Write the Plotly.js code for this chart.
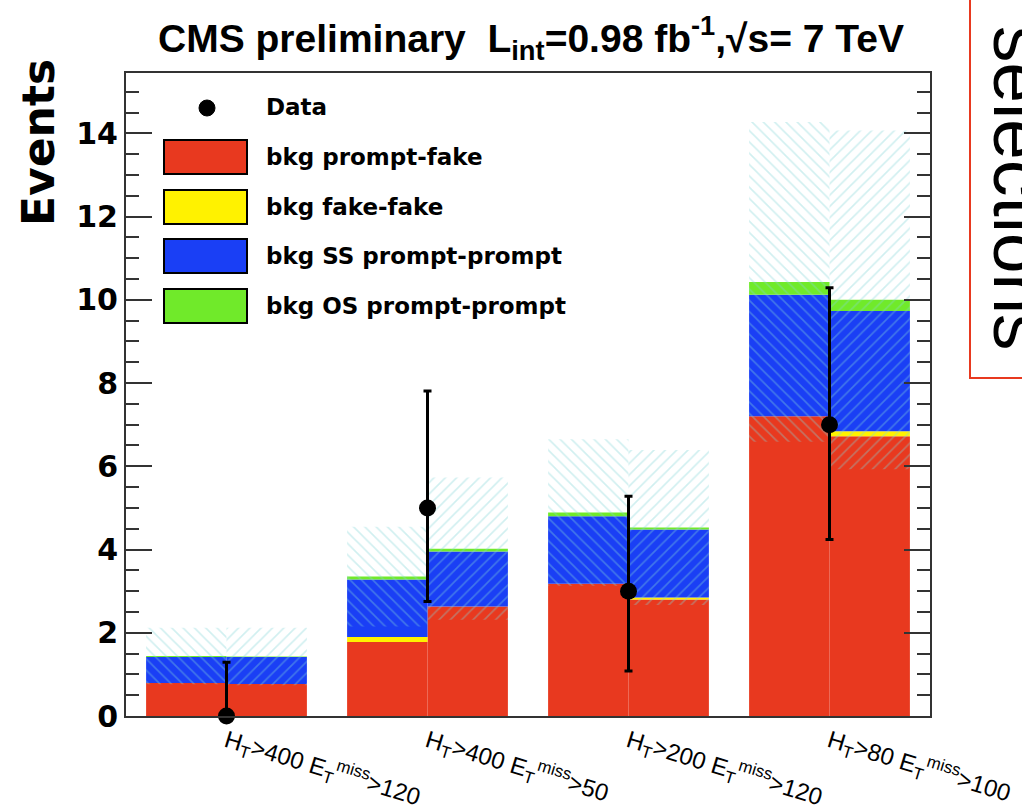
<!DOCTYPE html>
<html>
<head>
<meta charset="utf-8">
<script src="https://cdn.plot.ly/plotly-3.0.1.min.js"></script>
<style>html,body{margin:0;padding:0;background:#fff;}#chart{width:1022px;height:810px;}</style>
</head>
<body>
<div id="chart"></div>
<script>
// ---- data (each bin split into left / right half) ----
const binLabels = [
  "H<sub>T</sub>>400 E<sub>T</sub><sup>miss</sup>>120",
  "H<sub>T</sub>>400 E<sub>T</sub><sup>miss</sup>>50",
  "H<sub>T</sub>>200 E<sub>T</sub><sup>miss</sup>>120",
  "H<sub>T</sub>>80 E<sub>T</sub><sup>miss</sup>>100"
];
const promptFake   = [0.79, 0.77, 1.78, 2.63, 3.18, 2.80, 7.20, 6.72];
const fakeFake     = [0.00, 0.00, 0.12, 0.00, 0.00, 0.05, 0.00, 0.12];
const ssPromptPrompt = [0.63, 0.65, 1.38, 1.32, 1.62, 1.63, 2.92, 2.89];
const osPromptPrompt = [0.02, 0.01, 0.07, 0.07, 0.09, 0.05, 0.31, 0.27];
const bkgUncertainty = [0.68, 0.69, 1.20, 1.71, 1.76, 1.86, 3.84, 4.07];
const dataCounts  = [0, 5, 3, 7];
const dataErrUp   = [1.29, 2.81, 2.28, 3.29];
const dataErrDown = [0, 2.25, 1.92, 2.76];

// ---- helpers ----
const halfX = promptFake.map((_, k) => Math.floor(k / 2) + 0.3 + 0.4 * (k % 2));
const binX = dataCounts.map((_, i) => i + 0.5);
const cum = (arrs) => promptFake.map((_, k) => arrs.reduce((s, a) => s + a[k], 0));
const base1 = cum([promptFake]);
const base2 = cum([promptFake, fakeFake]);
const base3 = cum([promptFake, fakeFake, ssPromptPrompt]);
const total = cum([promptFake, fakeFake, ssPromptPrompt, osPromptPrompt]);

const colRed = '#e8391f', colYellow = '#fff200', colBlue = '#1a3ff5', colGreen = '#70ea2a';

function barTrace(name, y, base, color) {
  return {type: 'bar', name: name, x: halfX, y: y, base: base, width: 0.4,
    marker: {color: color, line: {width: 0}}, showlegend: false, hoverinfo: 'skip'};
}
const traces = [
  barTrace('bkg prompt-fake', promptFake, promptFake.map(() => 0), colRed),
  barTrace('bkg fake-fake', fakeFake, base1, colYellow),
  barTrace('bkg SS prompt-prompt', ssPromptPrompt, base2, colBlue),
  barTrace('bkg OS prompt-prompt', osPromptPrompt, base3, colGreen)
];
// hatched uncertainty band, left halves and right halves with different hatch direction
[0, 1].forEach(side => {
  const idx = promptFake.map((_, k) => k).filter(k => k % 2 === side);
  traces.push({
    type: 'bar', x: idx.map(k => halfX[k]),
    base: idx.map(k => total[k] - bkgUncertainty[k]),
    y: idx.map(k => 2 * bkgUncertainty[k]),
    width: 0.4, showlegend: false, hoverinfo: 'skip',
    marker: {color: 'rgba(0,0,0,0)', line: {width: 0},
      pattern: {shape: side === 0 ? '\\' : '/', fillmode: 'overlay',
        fgcolor: 'rgba(130,212,215,0.75)', size: 8, solidity: 0.2}}
  });
});
traces.push({
  type: 'scatter', mode: 'markers', name: 'Data', x: binX, y: dataCounts,
  marker: {color: 'black', size: 17},
  error_y: {type: 'data', symmetric: false, array: dataErrUp, arrayminus: dataErrDown,
    color: 'black', thickness: 3, width: 4},
  cliponaxis: false, showlegend: false
});

// ---- layout helpers (pixel -> paper) ----
const L = 126, R = 930, T = 73, B = 716;
const px = v => (v - L) / (R - L);
const py = v => (B - v) / (B - T);

const legendItems = [
  {label: 'bkg prompt-fake', color: colRed, y: 157},
  {label: 'bkg fake-fake', color: colYellow, y: 207},
  {label: 'bkg SS prompt-prompt', color: colBlue, y: 256},
  {label: 'bkg OS prompt-prompt', color: colGreen, y: 306}
];
const shapes = [];
const annotations = [];
const legFont = {family: 'DejaVu Sans', size: 23, weight: 'bold', color: 'black'};
shapes.push({type: 'circle', xref: 'paper', yref: 'paper', x0: px(199), x1: px(215), y0: py(116), y1: py(100),
  fillcolor: 'black', line: {color: 'black', width: 1}});
annotations.push({xref: 'paper', yref: 'paper', x: px(264), y: py(107), xanchor: 'left', yanchor: 'middle',
  text: 'Data', showarrow: false, font: legFont});
legendItems.forEach(it => {
  shapes.push({type: 'rect', xref: 'paper', yref: 'paper', x0: px(164), x1: px(247), y0: py(it.y + 17), y1: py(it.y - 17),
    fillcolor: it.color, line: {color: 'black', width: 2}});
  annotations.push({xref: 'paper', yref: 'paper', x: px(264), y: py(it.y), xanchor: 'left', yanchor: 'middle',
    text: it.label, showarrow: false, font: legFont});
});
// y title at top of axis
annotations.push({xref: 'paper', yref: 'paper', x: px(38), y: py(143), xanchor: 'center', yanchor: 'middle',
  text: 'Events', textangle: -90, showarrow: false,
  font: {family: 'DejaVu Sans', size: 44, weight: 'bold', color: 'black'}});
// red box + rotated text at right edge (cut off by the page edge, as in the reference)
shapes.push({type: 'rect', xref: 'paper', yref: 'paper', x0: px(970), x1: px(1060), y0: py(378), y1: py(-20),
  line: {color: colRed, width: 2}, fillcolor: 'rgba(0,0,0,0)'});
annotations.push({xref: 'paper', yref: 'paper', x: px(1019), y: py(188), xanchor: 'center', yanchor: 'middle',
  text: 'selections', textangle: 90, showarrow: false,
  font: {family: 'Liberation Sans', size: 73, color: 'black'}});

const layout = {
  width: 1022, height: 810,
  margin: {l: L, r: 1022 - R, t: T, b: 810 - B, pad: 0},
  paper_bgcolor: 'white', plot_bgcolor: 'white',
  barmode: 'overlay', showlegend: false,
  title: {text: 'CMS preliminary  L<sub>int</sub>=0.98 fb<sup>-1</sup>,√s= 7 TeV',
    x: 531 / 1022, xanchor: 'center', xref: 'container', y: 1 - 38 / 810, yanchor: 'middle', yref: 'container',
    font: {family: 'Liberation Sans', size: 39, weight: 'bold', color: 'black'}},
  xaxis: {range: [0, 4], tickmode: 'array', tickvals: binX, ticktext: binLabels, tickangle: 17,
    ticklabeloverflow: 'allow',
    ticks: '', showgrid: false, zeroline: false, showline: true, mirror: true, linecolor: '#333', linewidth: 2,
    tickfont: {family: 'Liberation Sans', size: 24, color: 'black'}},
  yaxis: {range: [0, 15.45], dtick: 2, tick0: 0, ticks: 'inside', ticklen: 26, tickwidth: 2, tickcolor: '#333',
    minor: {dtick: 0.5, ticks: 'inside', ticklen: 13, tickwidth: 2, tickcolor: '#333', showgrid: false},
    showgrid: false, zeroline: false, showline: true, mirror: 'ticks', linecolor: '#333', linewidth: 2,
    tickfont: {family: 'DejaVu Sans', size: 30, weight: 'bold', color: 'black'}},
  shapes: shapes, annotations: annotations
};
Plotly.newPlot('chart', traces, layout, {staticPlot: true, displayModeBar: false});
</script>
</body>
</html>
